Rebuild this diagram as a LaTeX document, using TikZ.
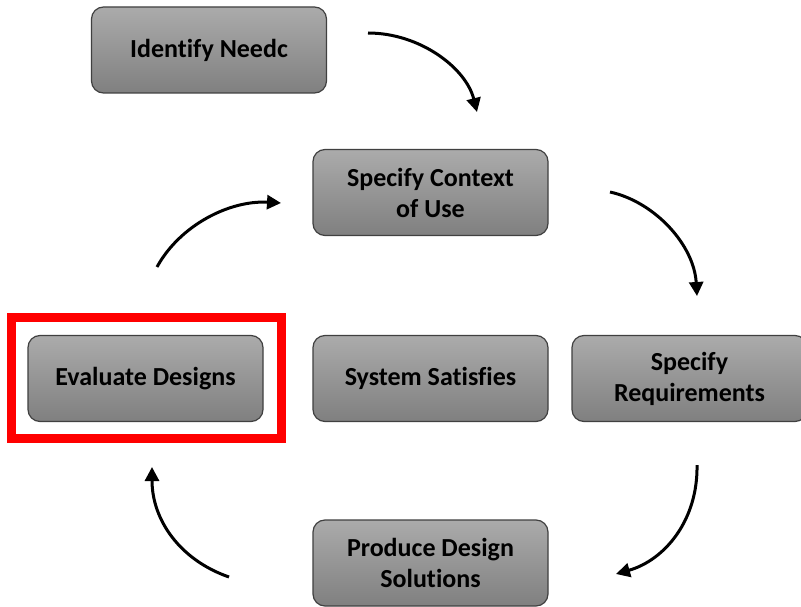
\documentclass[tikz,border=0pt]{standalone}
\usepackage{fontspec}
\setmainfont[Ligatures=NoCommon]{Carlito}
\usetikzlibrary{arrows.meta}
\begin{document}
\begin{tikzpicture}[x=1pt,y=-1pt,
  box/.style={draw=black!75, line width=1.2pt, rounded corners=12pt,
    top color=black!33, bottom color=black!50, minimum width=235pt,
    minimum height=86pt, align=center, font=\fontsize{26}{31}\selectfont\bfseries,
    text=black},
  arr/.style={line width=3pt, -{Triangle[length=14pt,width=14pt]}}]
\clip (0,0) rectangle (801,607);
\fill[white] (0,0) rectangle (801,607);
\node[box] (need) at (209,50) {Identify Needc};
\node[box] (ctx) at (430.5,192.5) {Specify Context\\of Use};
\node[box] (eval) at (145.5,378.5) {Evaluate Designs};
\node[box] (sys) at (430.5,378.5) {System Satisfies};
\node[box] (req) at (689.5,378.5) {Specify\\Requirements};
\node[box] (prod) at (430.5,563) {Produce Design\\Solutions};
\node[draw=red, line width=9pt, minimum width=270pt, minimum height=121pt, inner sep=0pt] (hl) at (146.5,378) {};
\coordinate (a1s) at (368,33); \coordinate (a1e) at (477,112);
\coordinate (a2s) at (610,192); \coordinate (a2e) at (697,296);
\coordinate (a3s) at (697,465); \coordinate (a3e) at (616,574);
\coordinate (a4s) at (229,577); \coordinate (a4e) at (152,467);
\coordinate (a5s) at (157,267); \coordinate (a5e) at (281,203);
\draw[arr] (a1s) .. controls (420,33) and (466,68) .. (a1e);
\draw[arr] (a2s) .. controls (655,202) and (694,245) .. (a2e);
\draw[arr] (a3s) .. controls (698,520) and (665,560) .. (a3e);
\draw[arr] (a4s) .. controls (180,560) and (152,520) .. (a4e);
\draw[arr] (a5s) .. controls (180,225) and (230,200) .. (a5e);
\end{tikzpicture}
\end{document}
